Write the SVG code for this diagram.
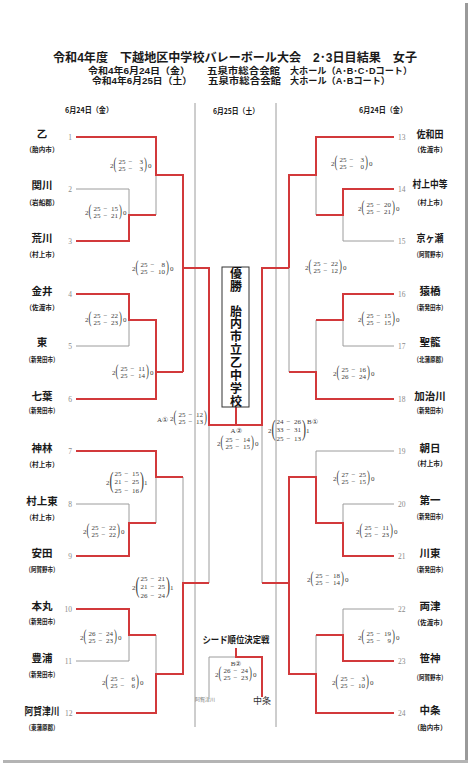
<svg xmlns="http://www.w3.org/2000/svg" width="471" height="773" viewBox="0 0 471 773">
<style>
.bg{fill:#fff}
.red{stroke:#d2393b;stroke-width:2;fill:none}
.gray{stroke:#9c9c9c;stroke-width:1;fill:none}
.jp{font-family:"Noto Sans CJK JP","Noto Sans CJK SC",sans-serif;font-weight:bold;fill:#1a1a1a}
.hj{font-family:"Liberation Sans","Noto Sans CJK JP","Noto Sans CJK SC",sans-serif;font-weight:bold;fill:#1a1a1a}
.title{font-size:12px;text-anchor:middle}
.hd{font-size:9px}
.date{font-size:7.5px;text-anchor:middle}
.name{font-size:10.5px;text-anchor:middle}
.sub{font-size:7px;text-anchor:middle}
.num{font-family:"Liberation Serif",serif;font-size:7.5px;fill:#8a8a8a}
.ne{text-anchor:end}
.sc text{font-family:"Liberation Serif",serif;font-size:7px;fill:#3a3a3a}
.sc .m{text-anchor:middle}
.sc .e{text-anchor:end}
.sc .p2{font-size:16px}
.sc .p3{font-size:24px}
.lab{font-family:"Liberation Serif","DejaVu Serif",serif;font-size:7px;fill:#3a3a3a}
.champ{font-family:"Noto Sans CJK JP",sans-serif;font-weight:bold;font-size:12px;fill:#111;writing-mode:vertical-rl}
</style>
<rect class="bg" x="0" y="0" width="471" height="773"/>
<rect x="465" y="3" width="3" height="760" fill="#9a9a9a"/>
<rect x="3" y="760" width="465" height="3" fill="#b4b4b4"/>

<g id="title">
<text class="hj title" x="235" y="62.3" textLength="364" lengthAdjust="spacingAndGlyphs">令和4年度　下越地区中学校バレーボール大会　2･3日目結果　女子</text>
<text class="hj hd"><tspan x="88" y="73.8" textLength="102" lengthAdjust="spacingAndGlyphs">令和4年6月24日（金）</tspan><tspan x="207" y="73.8" textLength="73" lengthAdjust="spacingAndGlyphs">五泉市総合会館</tspan><tspan x="290" y="73.8" textLength="122" lengthAdjust="spacingAndGlyphs">大ホール（A･B･C･Dコート）</tspan><tspan x="92" y="84.1" textLength="100" lengthAdjust="spacingAndGlyphs">令和4年6月25日（土）</tspan><tspan x="208" y="84.1" textLength="73" lengthAdjust="spacingAndGlyphs">五泉市総合会館</tspan><tspan x="290" y="84.1" textLength="100" lengthAdjust="spacingAndGlyphs">大ホール（A･Bコート）</tspan></text>
<text class="jp date" x="89" y="113" textLength="48" lengthAdjust="spacingAndGlyphs">6月24日（金）</text>
<text class="jp date" x="236" y="114" textLength="46" lengthAdjust="spacingAndGlyphs">6月25日（土）</text>
<text class="jp date" x="383" y="113" textLength="48" lengthAdjust="spacingAndGlyphs">6月24日（金）</text>
</g>

<g id="connectors">
<path class="gray" d="M195,103V727M276,103V727"/>
<path class="gray" d="M76,189H129V215M156,175V215M76,346H129V320M76,504H129V523M156,477V523M183,477V583M76,661H129V635M156,635V674"/>
<path class="gray" d="M394,241H343V215M316,175V215M289,268V372M394,346H343V320M316,320V372M394,451H316V477M394,504H343V523M394,609H343V635M316,635V674"/>
<path class="gray" d="M209,425V583M262,425V583M209,697V657H236"/>
<path class="red" d="M76,137H156V175H183V372"/>
<path class="red" d="M76,241H129V215H156"/>
<path class="red" d="M76,294H129V320H156V399H76"/>
<path class="red" d="M156,372H183"/>
<path class="red" d="M76,451H156V477H183"/>
<path class="red" d="M76,556H129V523H156"/>
<path class="red" d="M76,609H129V635H156"/>
<path class="red" d="M76,713H156V674H183V583H209"/>
<path class="red" d="M183,268H209V425H262V268H289"/>
<path class="red" d="M236,407V425"/>
<path class="red" d="M262,583H289"/>
<path class="red" d="M236,648V657H262V697"/>
<path class="red" d="M394,137H316V175H289V268"/>
<path class="red" d="M394,189H343V215H316"/>
<path class="red" d="M394,294H343V320H316"/>
<path class="red" d="M394,399H316V372H289"/>
<path class="red" d="M394,556H343V523H316V477H289V674H316V713H394"/>
<path class="red" d="M394,661H343V635H316"/>
</g>

<g id="team1"><text class="jp name" x="42" y="138">乙</text><text class="jp sub" x="42" y="152" textLength="33" lengthAdjust="spacingAndGlyphs">（胎内市）</text><text class="num ne" x="72" y="139.5">1</text></g>
<g id="team2"><text class="jp name" x="42" y="189">関川</text><text class="jp sub" x="42" y="204.7" textLength="33" lengthAdjust="spacingAndGlyphs">（岩船郡）</text><text class="num ne" x="72" y="191.5">2</text></g>
<g id="team3"><text class="jp name" x="42" y="242">荒川</text><text class="jp sub" x="42" y="256.7" textLength="33" lengthAdjust="spacingAndGlyphs">（村上市）</text><text class="num ne" x="72" y="243.5">3</text></g>
<g id="team4"><text class="jp name" x="42" y="295">金井</text><text class="jp sub" x="42" y="309.7" textLength="33" lengthAdjust="spacingAndGlyphs">（佐渡市）</text><text class="num ne" x="72" y="296.5">4</text></g>
<g id="team5"><text class="jp name" x="42" y="346">東</text><text class="jp sub" x="42" y="361.7" textLength="33" lengthAdjust="spacingAndGlyphs">（新発田市）</text><text class="num ne" x="72" y="348.5">5</text></g>
<g id="team6"><text class="jp name" x="42" y="400">七葉</text><text class="jp sub" x="42" y="412.7" textLength="33" lengthAdjust="spacingAndGlyphs">（新発田市）</text><text class="num ne" x="72" y="401.5">6</text></g>
<g id="team7"><text class="jp name" x="42" y="452">神林</text><text class="jp sub" x="42" y="466.7" textLength="33" lengthAdjust="spacingAndGlyphs">（村上市）</text><text class="num ne" x="72" y="453.5">7</text></g>
<g id="team8"><text class="jp name" x="42" y="505">村上東</text><text class="jp sub" x="42" y="519.7" textLength="33" lengthAdjust="spacingAndGlyphs">（村上市）</text><text class="num ne" x="72" y="506.5">8</text></g>
<g id="team9"><text class="jp name" x="42" y="557">安田</text><text class="jp sub" x="42" y="571.7" textLength="33" lengthAdjust="spacingAndGlyphs">（阿賀野市）</text><text class="num ne" x="72" y="558.5">9</text></g>
<g id="team10"><text class="jp name" x="42" y="610">本丸</text><text class="jp sub" x="42" y="623.7" textLength="33" lengthAdjust="spacingAndGlyphs">（新発田市）</text><text class="num ne" x="72" y="611.5">10</text></g>
<g id="team11"><text class="jp name" x="42" y="662">豊浦</text><text class="jp sub" x="42" y="676.7" textLength="33" lengthAdjust="spacingAndGlyphs">（新発田市）</text><text class="num ne" x="72" y="663.5">11</text></g>
<g id="team12"><text class="jp name" x="42" y="715" textLength="35" lengthAdjust="spacingAndGlyphs">阿賀津川</text><text class="jp sub" x="42" y="729.7" textLength="33" lengthAdjust="spacingAndGlyphs">（東蒲原郡）</text><text class="num ne" x="72.5" y="715.5">12</text></g>

<g id="team13"><text class="jp name" x="430" y="138" textLength="27" lengthAdjust="spacingAndGlyphs">佐和田</text><text class="jp sub" x="430" y="152" textLength="33" lengthAdjust="spacingAndGlyphs">（佐渡市）</text><text class="num" x="398" y="139.5">13</text></g>
<g id="team14"><text class="jp name" x="430" y="188" textLength="35" lengthAdjust="spacingAndGlyphs">村上中等</text><text class="jp sub" x="430" y="204.7" textLength="33" lengthAdjust="spacingAndGlyphs">（村上市）</text><text class="num" x="398" y="191.5">14</text></g>
<g id="team15"><text class="jp name" x="430" y="242" textLength="27" lengthAdjust="spacingAndGlyphs">京ヶ瀬</text><text class="jp sub" x="430" y="256.7" textLength="33" lengthAdjust="spacingAndGlyphs">（阿賀野市）</text><text class="num" x="398" y="243.5">15</text></g>
<g id="team16"><text class="jp name" x="430" y="295">猿橋</text><text class="jp sub" x="430" y="309.7" textLength="33" lengthAdjust="spacingAndGlyphs">（新発田市）</text><text class="num" x="398" y="296.5">16</text></g>
<g id="team17"><text class="jp name" x="430" y="346">聖籠</text><text class="jp sub" x="430" y="361.7" textLength="33" lengthAdjust="spacingAndGlyphs">（北蒲原郡）</text><text class="num" x="398" y="348.5">17</text></g>
<g id="team18"><text class="jp name" x="430" y="400">加治川</text><text class="jp sub" x="430" y="412.7" textLength="33" lengthAdjust="spacingAndGlyphs">（新発田市）</text><text class="num" x="398" y="401.5">18</text></g>
<g id="team19"><text class="jp name" x="430" y="452">朝日</text><text class="jp sub" x="430" y="465.7" textLength="33" lengthAdjust="spacingAndGlyphs">（村上市）</text><text class="num" x="398" y="453.5">19</text></g>
<g id="team20"><text class="jp name" x="430" y="504">第一</text><text class="jp sub" x="430" y="518.7" textLength="33" lengthAdjust="spacingAndGlyphs">（新発田市）</text><text class="num" x="398" y="506.5">20</text></g>
<g id="team21"><text class="jp name" x="430" y="557">川東</text><text class="jp sub" x="430" y="571.7" textLength="33" lengthAdjust="spacingAndGlyphs">（新発田市）</text><text class="num" x="398" y="558.5">21</text></g>
<g id="team22"><text class="jp name" x="430" y="610">両津</text><text class="jp sub" x="430" y="624.7" textLength="33" lengthAdjust="spacingAndGlyphs">（佐渡市）</text><text class="num" x="398" y="611.5">22</text></g>
<g id="team23"><text class="jp name" x="430" y="662">笹神</text><text class="jp sub" x="430" y="679.7" textLength="33" lengthAdjust="spacingAndGlyphs">（阿賀野市）</text><text class="num" x="398" y="663.5">23</text></g>
<g id="team24"><text class="jp name" x="430" y="714">中条</text><text class="jp sub" x="430" y="729.7" textLength="33" lengthAdjust="spacingAndGlyphs">（胎内市）</text><text class="num" x="398" y="715.5">24</text></g>

<g id="champion">
<rect x="222" y="267" width="27" height="140" fill="#fff" stroke="#333" stroke-width="1"/>
<text class="champ" x="236" y="267.5" letter-spacing="0.7">優勝</text>
<text class="champ" x="236" y="305" letter-spacing="0.85">胎内市立乙中学校</text>
</g>

<g id="seed-match">
<text class="jp" x="236" y="642.5" font-size="9.5" text-anchor="middle" textLength="67" lengthAdjust="spacingAndGlyphs">シード順位決定戦</text>
<text x="205" y="701" font-family="'Noto Sans CJK JP',sans-serif" font-size="5" fill="#777" text-anchor="middle">阿賀津川</text>
<text x="262" y="703.5" font-family="'Noto Sans CJK JP',sans-serif" font-size="9" fill="#333" text-anchor="middle">中条</text>
</g>

<g id="scores" class="sc">
<g transform="translate(110,165)"><text x="0" y="2.5">2</text><text class="p2" transform="translate(3.5,4.1) scale(0.55,1)">(</text><text x="8.5" y="-1.3">25</text><text class="m" x="20.5" y="-1.3">−</text><text class="e" x="33" y="-1.3">3</text><text x="8.5" y="6.2">25</text><text class="m" x="20.5" y="6.2">−</text><text class="e" x="33" y="6.2">3</text><text class="p2" transform="translate(34,4.1) scale(0.55,1)">)</text><text x="38" y="2.5">0</text></g>
<g transform="translate(85,212)"><text x="0" y="2.5">2</text><text class="p2" transform="translate(3.5,4.1) scale(0.55,1)">(</text><text x="8.5" y="-1.3">25</text><text class="m" x="20.5" y="-1.3">−</text><text class="e" x="33" y="-1.3">15</text><text x="8.5" y="6.2">25</text><text class="m" x="20.5" y="6.2">−</text><text class="e" x="33" y="6.2">21</text><text class="p2" transform="translate(34,4.1) scale(0.55,1)">)</text><text x="38" y="2.5">0</text></g>
<g transform="translate(132,268)"><text x="0" y="2.5">2</text><text class="p2" transform="translate(3.5,4.1) scale(0.55,1)">(</text><text x="8.5" y="-1.3">25</text><text class="m" x="20.5" y="-1.3">−</text><text class="e" x="33" y="-1.3">8</text><text x="8.5" y="6.2">25</text><text class="m" x="20.5" y="6.2">−</text><text class="e" x="33" y="6.2">10</text><text class="p2" transform="translate(34,4.1) scale(0.55,1)">)</text><text x="38" y="2.5">0</text></g>
<g transform="translate(85,319)"><text x="0" y="2.5">2</text><text class="p2" transform="translate(3.5,4.1) scale(0.55,1)">(</text><text x="8.5" y="-1.3">25</text><text class="m" x="20.5" y="-1.3">−</text><text class="e" x="33" y="-1.3">22</text><text x="8.5" y="6.2">25</text><text class="m" x="20.5" y="6.2">−</text><text class="e" x="33" y="6.2">23</text><text class="p2" transform="translate(34,4.1) scale(0.55,1)">)</text><text x="38" y="2.5">0</text></g>
<g transform="translate(112,372)"><text x="0" y="2.5">2</text><text class="p2" transform="translate(3.5,4.1) scale(0.55,1)">(</text><text x="8.5" y="-1.3">25</text><text class="m" x="20.5" y="-1.3">−</text><text class="e" x="33" y="-1.3">11</text><text x="8.5" y="6.2">25</text><text class="m" x="20.5" y="6.2">−</text><text class="e" x="33" y="6.2">14</text><text class="p2" transform="translate(34,4.1) scale(0.55,1)">)</text><text x="38" y="2.5">0</text></g>
<g transform="translate(106,482)"><text x="0" y="2.5">2</text><text class="p3" transform="translate(3.5,6.2) scale(0.5,1)">(</text><text x="8.5" y="-6.2">25</text><text class="m" x="20.5" y="-6.2">−</text><text class="e" x="33" y="-6.2">15</text><text x="8.5" y="2.3">21</text><text class="m" x="20.5" y="2.3">−</text><text class="e" x="33" y="2.3">25</text><text x="8.5" y="10.8">25</text><text class="m" x="20.5" y="10.8">−</text><text class="e" x="33" y="10.8">16</text><text class="p3" transform="translate(34,6.2) scale(0.5,1)">)</text><text x="38" y="2.5">1</text></g>
<g transform="translate(83,531)"><text x="0" y="2.5">2</text><text class="p2" transform="translate(3.5,4.1) scale(0.55,1)">(</text><text x="8.5" y="-1.3">25</text><text class="m" x="20.5" y="-1.3">−</text><text class="e" x="33" y="-1.3">22</text><text x="8.5" y="6.2">25</text><text class="m" x="20.5" y="6.2">−</text><text class="e" x="33" y="6.2">22</text><text class="p2" transform="translate(34,4.1) scale(0.55,1)">)</text><text x="38" y="2.5">0</text></g>
<g transform="translate(132,587)"><text x="0" y="2.5">2</text><text class="p3" transform="translate(3.5,6.2) scale(0.5,1)">(</text><text x="8.5" y="-6.2">25</text><text class="m" x="20.5" y="-6.2">−</text><text class="e" x="33" y="-6.2">21</text><text x="8.5" y="2.3">21</text><text class="m" x="20.5" y="2.3">−</text><text class="e" x="33" y="2.3">25</text><text x="8.5" y="10.8">26</text><text class="m" x="20.5" y="10.8">−</text><text class="e" x="33" y="10.8">24</text><text class="p3" transform="translate(34,6.2) scale(0.5,1)">)</text><text x="38" y="2.5">1</text></g>
<g transform="translate(80,637)"><text x="0" y="2.5">2</text><text class="p2" transform="translate(3.5,4.1) scale(0.55,1)">(</text><text x="8.5" y="-1.3">26</text><text class="m" x="20.5" y="-1.3">−</text><text class="e" x="33" y="-1.3">24</text><text x="8.5" y="6.2">25</text><text class="m" x="20.5" y="6.2">−</text><text class="e" x="33" y="6.2">23</text><text class="p2" transform="translate(34,4.1) scale(0.55,1)">)</text><text x="38" y="2.5">0</text></g>
<g transform="translate(102,682)"><text x="0" y="2.5">2</text><text class="p2" transform="translate(3.5,4.1) scale(0.55,1)">(</text><text x="8.5" y="-1.3">25</text><text class="m" x="20.5" y="-1.3">−</text><text class="e" x="33" y="-1.3">6</text><text x="8.5" y="6.2">25</text><text class="m" x="20.5" y="6.2">−</text><text class="e" x="33" y="6.2">6</text><text class="p2" transform="translate(34,4.1) scale(0.55,1)">)</text><text x="38" y="2.5">0</text></g>
<g transform="translate(331,163)"><text x="0" y="2.5">2</text><text class="p2" transform="translate(3.5,4.1) scale(0.55,1)">(</text><text x="8.5" y="-1.3">25</text><text class="m" x="20.5" y="-1.3">−</text><text class="e" x="33" y="-1.3">3</text><text x="8.5" y="6.2">25</text><text class="m" x="20.5" y="6.2">−</text><text class="e" x="33" y="6.2">0</text><text class="p2" transform="translate(34,4.1) scale(0.55,1)">)</text><text x="38" y="2.5">0</text></g>
<g transform="translate(358,208)"><text x="0" y="2.5">2</text><text class="p2" transform="translate(3.5,4.1) scale(0.55,1)">(</text><text x="8.5" y="-1.3">25</text><text class="m" x="20.5" y="-1.3">−</text><text class="e" x="33" y="-1.3">20</text><text x="8.5" y="6.2">25</text><text class="m" x="20.5" y="6.2">−</text><text class="e" x="33" y="6.2">21</text><text class="p2" transform="translate(34,4.1) scale(0.55,1)">)</text><text x="38" y="2.5">0</text></g>
<g transform="translate(305,267)"><text x="0" y="2.5">2</text><text class="p2" transform="translate(3.5,4.1) scale(0.55,1)">(</text><text x="8.5" y="-1.3">25</text><text class="m" x="20.5" y="-1.3">−</text><text class="e" x="33" y="-1.3">22</text><text x="8.5" y="6.2">25</text><text class="m" x="20.5" y="6.2">−</text><text class="e" x="33" y="6.2">12</text><text class="p2" transform="translate(34,4.1) scale(0.55,1)">)</text><text x="38" y="2.5">0</text></g>
<g transform="translate(358,319)"><text x="0" y="2.5">2</text><text class="p2" transform="translate(3.5,4.1) scale(0.55,1)">(</text><text x="8.5" y="-1.3">25</text><text class="m" x="20.5" y="-1.3">−</text><text class="e" x="33" y="-1.3">15</text><text x="8.5" y="6.2">25</text><text class="m" x="20.5" y="6.2">−</text><text class="e" x="33" y="6.2">15</text><text class="p2" transform="translate(34,4.1) scale(0.55,1)">)</text><text x="38" y="2.5">0</text></g>
<g transform="translate(333,373)"><text x="0" y="2.5">2</text><text class="p2" transform="translate(3.5,4.1) scale(0.55,1)">(</text><text x="8.5" y="-1.3">25</text><text class="m" x="20.5" y="-1.3">−</text><text class="e" x="33" y="-1.3">16</text><text x="8.5" y="6.2">26</text><text class="m" x="20.5" y="6.2">−</text><text class="e" x="33" y="6.2">24</text><text class="p2" transform="translate(34,4.1) scale(0.55,1)">)</text><text x="38" y="2.5">0</text></g>
<g transform="translate(333,478)"><text x="0" y="2.5">2</text><text class="p2" transform="translate(3.5,4.1) scale(0.55,1)">(</text><text x="8.5" y="-1.3">27</text><text class="m" x="20.5" y="-1.3">−</text><text class="e" x="33" y="-1.3">25</text><text x="8.5" y="6.2">25</text><text class="m" x="20.5" y="6.2">−</text><text class="e" x="33" y="6.2">15</text><text class="p2" transform="translate(34,4.1) scale(0.55,1)">)</text><text x="38" y="2.5">0</text></g>
<g transform="translate(356,531)"><text x="0" y="2.5">2</text><text class="p2" transform="translate(3.5,4.1) scale(0.55,1)">(</text><text x="8.5" y="-1.3">25</text><text class="m" x="20.5" y="-1.3">−</text><text class="e" x="33" y="-1.3">11</text><text x="8.5" y="6.2">25</text><text class="m" x="20.5" y="6.2">−</text><text class="e" x="33" y="6.2">23</text><text class="p2" transform="translate(34,4.1) scale(0.55,1)">)</text><text x="38" y="2.5">0</text></g>
<g transform="translate(307,579)"><text x="0" y="2.5">2</text><text class="p2" transform="translate(3.5,4.1) scale(0.55,1)">(</text><text x="8.5" y="-1.3">25</text><text class="m" x="20.5" y="-1.3">−</text><text class="e" x="33" y="-1.3">18</text><text x="8.5" y="6.2">25</text><text class="m" x="20.5" y="6.2">−</text><text class="e" x="33" y="6.2">14</text><text class="p2" transform="translate(34,4.1) scale(0.55,1)">)</text><text x="38" y="2.5">0</text></g>
<g transform="translate(358,637)"><text x="0" y="2.5">2</text><text class="p2" transform="translate(3.5,4.1) scale(0.55,1)">(</text><text x="8.5" y="-1.3">25</text><text class="m" x="20.5" y="-1.3">−</text><text class="e" x="33" y="-1.3">19</text><text x="8.5" y="6.2">25</text><text class="m" x="20.5" y="6.2">−</text><text class="e" x="33" y="6.2">9</text><text class="p2" transform="translate(34,4.1) scale(0.55,1)">)</text><text x="38" y="2.5">0</text></g>
<g transform="translate(332,682)"><text x="0" y="2.5">2</text><text class="p2" transform="translate(3.5,4.1) scale(0.55,1)">(</text><text x="8.5" y="-1.3">25</text><text class="m" x="20.5" y="-1.3">−</text><text class="e" x="33" y="-1.3">3</text><text x="8.5" y="6.2">25</text><text class="m" x="20.5" y="6.2">−</text><text class="e" x="33" y="6.2">10</text><text class="p2" transform="translate(34,4.1) scale(0.55,1)">)</text><text x="38" y="2.5">0</text></g>
<g transform="translate(170,418)"><text x="0" y="2.5">2</text><text class="p2" transform="translate(3.5,4.1) scale(0.55,1)">(</text><text x="8.5" y="-1.3">25</text><text class="m" x="20.5" y="-1.3">−</text><text class="e" x="33" y="-1.3">12</text><text x="8.5" y="6.2">25</text><text class="m" x="20.5" y="6.2">−</text><text class="e" x="33" y="6.2">13</text><text class="p2" transform="translate(34,4.1) scale(0.55,1)">)</text></g>
<g transform="translate(217,443)"><text x="0" y="2.5">2</text><text class="p2" transform="translate(3.5,4.1) scale(0.55,1)">(</text><text x="8.5" y="-1.3">25</text><text class="m" x="20.5" y="-1.3">−</text><text class="e" x="33" y="-1.3">14</text><text x="8.5" y="6.2">25</text><text class="m" x="20.5" y="6.2">−</text><text class="e" x="33" y="6.2">15</text><text class="p2" transform="translate(34,4.1) scale(0.55,1)">)</text><text x="38" y="2.5">0</text></g>
<g transform="translate(268,430)"><text x="0" y="2.5">2</text><text class="p3" transform="translate(3.5,6.2) scale(0.5,1)">(</text><text x="8.5" y="-6.2">24</text><text class="m" x="20.5" y="-6.2">−</text><text class="e" x="33" y="-6.2">26</text><text x="8.5" y="2.3">33</text><text class="m" x="20.5" y="2.3">−</text><text class="e" x="33" y="2.3">31</text><text x="8.5" y="10.8">25</text><text class="m" x="20.5" y="10.8">−</text><text class="e" x="33" y="10.8">13</text><text class="p3" transform="translate(34,6.2) scale(0.5,1)">)</text><text x="38" y="2.5">1</text></g>
<g transform="translate(215,674)"><text x="0" y="2.5">2</text><text class="p2" transform="translate(3.5,4.1) scale(0.55,1)">(</text><text x="8.5" y="-1.3">26</text><text class="m" x="20.5" y="-1.3">−</text><text class="e" x="33" y="-1.3">24</text><text x="8.5" y="6.2">25</text><text class="m" x="20.5" y="6.2">−</text><text class="e" x="33" y="6.2">23</text><text class="p2" transform="translate(34,4.1) scale(0.55,1)">)</text><text x="38" y="2.5">0</text></g>
</g>

<g id="match-labels">
<text class="lab" x="157" y="422">A①</text>
<text class="lab" x="236" y="433" text-anchor="middle">A②</text>
<text class="lab" x="307" y="424">B①</text>
<text class="lab" x="236" y="665.5" text-anchor="middle">B②</text>
</g>
</svg>
